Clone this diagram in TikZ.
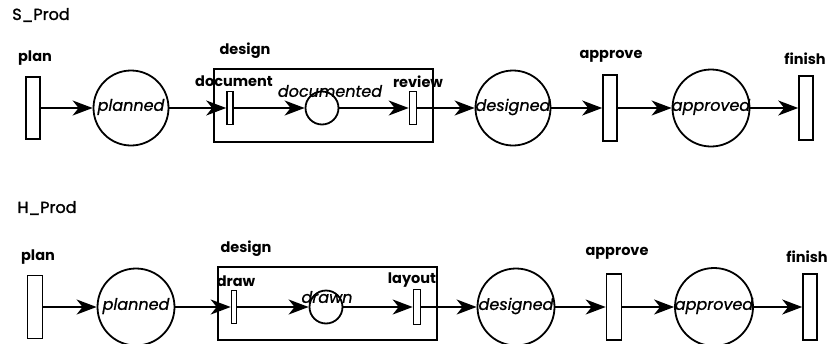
\documentclass[tikz,border=0pt]{standalone}
\usepackage{fontspec}
\setmainfont{Poppins}
\newfontfamily\plcfont[FakeBold=0.8]{Poppins}
\newfontfamily\namefont[FakeBold=1.5]{Poppins}
\usetikzlibrary{arrows.meta}
\tikzset{
  trans/.style={draw, line width=1.6pt, fill=white, inner sep=0pt, minimum width=#1},
  trans/.default=14pt,
  place/.style={draw, circle, line width=1.8pt, inner sep=0pt, minimum size=#1},
  place/.default=75pt,
  lbl/.style={font=\fontsize{14.5}{15}\selectfont\bfseries, inner sep=0pt},
  netname/.style={font=\namefont\fontsize{16}{17}\selectfont, inner sep=0pt},
  ptext/.style={font=\plcfont\fontsize{16}{17}\selectfont\itshape, inner sep=0pt},
  arc/.style={line width=1.8pt, -{Stealth[length=20pt,width=15pt,inset=6pt]}},
  subnet/.style={draw, line width=1.8pt}
}
\begin{document}
\begin{tikzpicture}[x=1pt,y=-1pt]
\useasboundingbox (0,0) rectangle (830,343);

% ---------------- S_Prod ----------------
\node[netname] (sname) at (41,15) {S\_Prod};
\draw[subnet] (214,69) rectangle (433,142);

\node[trans, minimum height=62pt] (splan) at (33,108) {};
\node[place] (splanned) at (131,108) {};
\node[trans=6pt, minimum height=33pt] (sdoc) at (230,108) {};
\node[place=33pt] (sdocd) at (322,108) {};
\node[trans=7pt, minimum height=33pt] (srev) at (413,108) {};
\node[place] (sdesd) at (513,108) {};
\node[trans, minimum height=66pt] (sapp) at (610,108) {};
\node[place=77pt] (sappd) at (711,108) {};
\node[trans, minimum height=64pt] (sfin) at (806,108) {};

\node[lbl] (lsplan) at (35,58) {plan};
\node[lbl] (lsdesign) at (245,51) {design};
\node[lbl] (lsdoc) at (234,81) {document};
\node[lbl] (lsrev) at (418,82) {review};
\node[lbl] (lsapp) at (611,56) {approve};
\node[lbl] (lsfin) at (805,59) {finish};

\node[ptext] (tsplanned) at (131,107) {planned};
\node[ptext] (tsdocd) at (330,91) {documented};
\node[ptext] (tsdesd) at (513,107) {designed};
\node[ptext] (tsappd) at (711,107) {approved};

\draw[arc] (splan.east) -- (splanned.west);
\draw[arc] (splanned.east) -- (sdoc.west);
\draw[arc] (sdoc.east) -- (sdocd.west);
\draw[arc] (sdocd.east) -- (srev.west);
\draw[arc] (srev.east) -- (sdesd.west);
\draw[arc] (sdesd.east) -- (sapp.west);
\draw[arc] (sapp.east) -- (sappd.west);
\draw[arc] (sappd.east) -- (sfin.west);

% ---------------- H_Prod ----------------
\node[netname] (hname) at (47,208) {H\_Prod};
\draw[subnet] (218,267) rectangle (437,340);

\node[trans=15pt, minimum height=63pt] (hplan) at (35,307) {};
\node[place=77pt] (hplanned) at (136,307) {};
\node[trans=5pt, minimum height=33pt] (hdraw) at (234,307) {};
\node[place=33pt] (hdrawn) at (326,307) {};
\node[trans=7pt, minimum height=35pt] (hlay) at (417,307) {};
\node[place=77pt] (hdesd) at (516,307) {};
\node[trans=15pt, minimum height=66pt] (happ) at (614,307) {};
\node[place=78pt] (happd) at (714,307) {};
\node[trans, minimum height=66pt] (hfin) at (810,307) {};

\node[lbl] (lhplan) at (38,257) {plan};
\node[lbl] (lhdesign) at (246,249) {design};
\node[lbl] (lhdraw) at (236,281) {draw};
\node[lbl] (lhlay) at (412,280) {layout};
\node[lbl] (lhapp) at (617,253) {approve};
\node[lbl] (lhfin) at (807,257) {finish};

\node[ptext] (thplanned) at (136,306) {planned};
\node[ptext] (thdrawn) at (327,297) {drawn};
\node[ptext] (thdesd) at (516,306) {designed};
\node[ptext] (thappd) at (714,306) {approved};

\draw[arc] (hplan.east) -- (hplanned.west);
\draw[arc] (hplanned.east) -- (hdraw.west);
\draw[arc] (hdraw.east) -- (hdrawn.west);
\draw[arc] (hdrawn.east) -- (hlay.west);
\draw[arc] (hlay.east) -- (hdesd.west);
\draw[arc] (hdesd.east) -- (happ.west);
\draw[arc] (happ.east) -- (happd.west);
\draw[arc] (happd.east) -- (hfin.west);
\end{tikzpicture}
\end{document}
